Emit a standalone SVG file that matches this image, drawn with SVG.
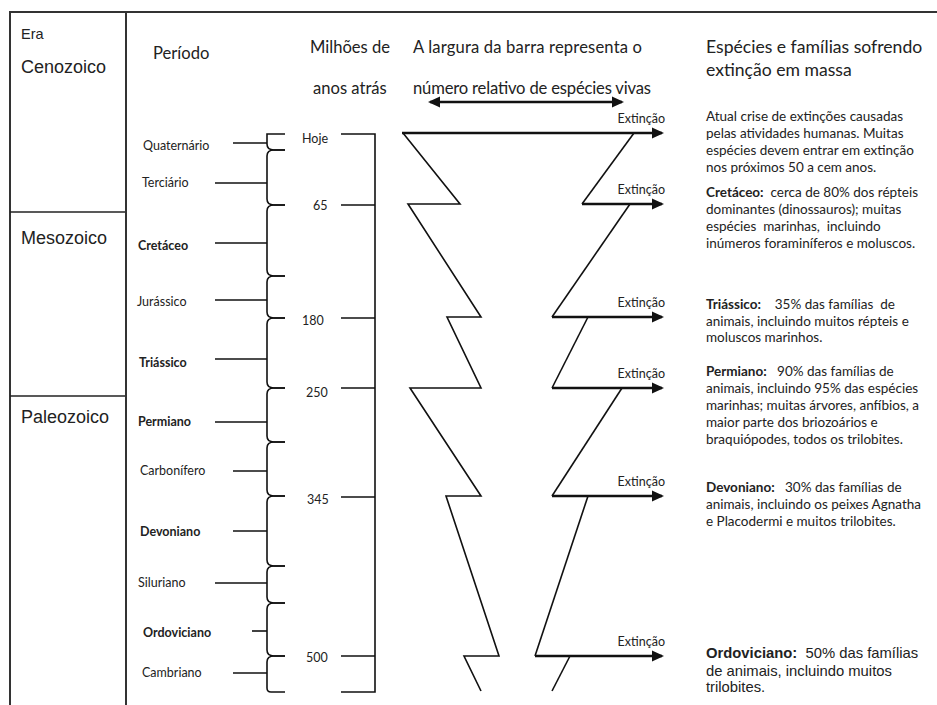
<svg xmlns="http://www.w3.org/2000/svg" width="937" height="705" viewBox="0 0 937 705">
<style>
.frame{stroke:#333;stroke-width:2;fill:none}
.thin{stroke:#222;stroke-width:1.5;fill:none}
.zig{stroke:#111;stroke-width:1.6;fill:none;stroke-linejoin:miter}
.arr{stroke:#111;stroke-width:2.6;fill:none}
.tick{stroke:#111;stroke-width:1.6;fill:none}
.brace{stroke:#111;stroke-width:1.6;fill:none}
.ar{font-family:"Liberation Sans",Arial,sans-serif;fill:#222}
.ca{font-family:Lato,"Open Sans",sans-serif;fill:#222}
.hd{font-size:16.6px}
.lb{font-size:12.5px}
.bd{font-size:13.5px;white-space:pre}
.b{font-weight:bold}
.ext{font-size:12.5px;text-anchor:end}
</style>
<defs>
<marker id="ah" markerUnits="userSpaceOnUse" markerWidth="14" markerHeight="12" refX="10" refY="6" orient="auto-start-reverse" viewBox="0 0 14 12">
<path d="M0,0.5 L12,6 L0,11.5 z" fill="#111"/>
</marker>
</defs>

<g id="frame">
<line class="frame" x1="9" y1="12" x2="937" y2="12"/>
<line class="frame" x1="10" y1="11" x2="10" y2="705"/>
<line class="frame" x1="126" y1="11" x2="126" y2="705"/>
<line class="thin" x1="10" y1="212" x2="125" y2="212"/>
<line class="thin" x1="10" y1="396" x2="125" y2="396"/>
</g>

<g id="era-header"><text class="ar" x="21" y="39" font-size="14.5">Era</text></g>
<g id="era-cenozoico"><text class="ar" x="21" y="73" font-size="18">Cenozoico</text></g>
<g id="era-mesozoico"><text class="ar" x="21" y="244" font-size="18">Mesozoico</text></g>
<g id="era-paleozoico"><text class="ar" x="21" y="423" font-size="18">Paleozoico</text></g>

<g id="headers">
<text class="ca hd" x="153" y="59">Período</text>
<text class="ca hd" x="310" y="53">Milhões de</text>
<text class="ca hd" x="313" y="94">anos atrás</text>
<text class="ca hd" x="413" y="53" textLength="229" lengthAdjust="spacing">A largura da barra representa o</text>
<text class="ca hd" x="413" y="94" textLength="238" lengthAdjust="spacing">número relativo de espécies vivas</text>
<text class="ca" x="706" y="53" font-size="17.6">Espécies e famílias sofrendo</text>
<text class="ca" x="706" y="76" font-size="17.6">extinção em massa</text>
</g>

<g id="periods">
<text class="ca lb" x="143" y="150">Quaternário</text>
<text class="ca lb" x="142" y="187">Terciário</text>
<text class="ca lb b" x="138" y="250">Cretáceo</text>
<text class="ca lb" x="137" y="306">Jurássico</text>
<text class="ca lb b" x="139" y="367">Triássico</text>
<text class="ca lb b" x="138" y="426">Permiano</text>
<text class="ca lb" x="140" y="475">Carbonífero</text>
<text class="ca lb b" x="140" y="536">Devoniano</text>
<text class="ca lb" x="138" y="587">Siluriano</text>
<text class="ca lb b" x="143" y="637">Ordoviciano</text>
<text class="ca lb" x="142" y="677">Cambriano</text>
</g>

<g id="ages">
<text class="ca lb" x="302" y="143">Hoje</text>
<text class="ca lb" x="313" y="210">65</text>
<text class="ca lb" x="302" y="325">180</text>
<text class="ca lb" x="306" y="397">250</text>
<text class="ca lb" x="307" y="504">345</text>
<text class="ca lb" x="306" y="662">500</text>
</g>

<g id="connectors">
<g id="period-ticks">
<line class="tick" x1="233" y1="143" x2="267" y2="143"/>
<line class="tick" x1="215" y1="183" x2="267" y2="183"/>
<line class="tick" x1="215" y1="243" x2="267" y2="243"/>
<line class="tick" x1="215" y1="300" x2="267" y2="300"/>
<line class="tick" x1="215" y1="359" x2="267" y2="359"/>
<line class="tick" x1="215" y1="422" x2="267" y2="422"/>
<line class="tick" x1="233" y1="471" x2="267" y2="471"/>
<line class="tick" x1="233" y1="531" x2="267" y2="531"/>
<line class="tick" x1="215" y1="583" x2="267" y2="583"/>
<line class="tick" x1="252" y1="631" x2="267" y2="631"/>
<line class="tick" x1="233" y1="673" x2="267" y2="673"/>
</g>
<g id="braces">
<path class="brace" d="M285,134 L267,134 L267,144 Q267,150 274,150 L285,150"/>
<path class="brace" d="M285,150 L274,150 Q267,150 267,156 L267,199 Q267,205 274,205 L285,205"/>
<path class="brace" d="M285,205 L274,205 Q267,205 267,211 L267,270 Q267,276 274,276 L285,276"/>
<path class="brace" d="M285,276 L274,276 Q267,276 267,282 L267,312 Q267,318 274,318 L285,318"/>
<path class="brace" d="M285,318 L274,318 Q267,318 267,324 L267,382 Q267,388 274,388 L285,388"/>
<path class="brace" d="M285,388 L274,388 Q267,388 267,394 L267,436 Q267,442 274,442 L285,442"/>
<path class="brace" d="M285,442 L274,442 Q267,442 267,448 L267,490 Q267,496 274,496 L285,496"/>
<path class="brace" d="M285,496 L274,496 Q267,496 267,502 L267,560 Q267,566 274,566 L285,566"/>
<path class="brace" d="M285,566 L274,566 Q267,566 267,572 L267,597 Q267,603 274,603 L285,603"/>
<path class="brace" d="M285,603 L274,603 Q267,603 267,609 L267,650 Q267,656 274,656 L285,656"/>
<path class="brace" d="M285,656 L274,656 Q267,656 267,662 L267,688 Q267,692 271,692 L285,692"/>
</g>
<g id="age-scale">
<path class="tick" d="M341,134 L375,134 L375,692 L341,692"/>
<line class="tick" x1="341" y1="205" x2="375" y2="205"/>
<line class="tick" x1="341" y1="318" x2="375" y2="318"/>
<line class="tick" x1="341" y1="388" x2="375" y2="388"/>
<line class="tick" x1="341" y1="497" x2="375" y2="497"/>
<line class="tick" x1="341" y1="656" x2="375" y2="656"/>
</g>
<line id="width-arrow" class="arr" x1="430" y1="102" x2="622" y2="102" marker-start="url(#ah)" marker-end="url(#ah)"/>
<g id="bar">
<path class="zig" d="M403,133 L460,204 L408,204 L481,317 L447,317 L481,388 L410,388 L481,496 L446,496 L499,656 L464,656 L481,691"/>
<path class="zig" d="M634,133 L582,204"/>
<path class="zig" d="M630,204 L552,317"/>
<path class="zig" d="M588,317 L552,388"/>
<path class="zig" d="M622,388 L552,496"/>
<path class="zig" d="M588,496 L535,656"/>
<path class="zig" d="M570,656 L552,691"/>
</g>
<g id="extinction-arrows">
<line class="arr" x1="402" y1="133" x2="662" y2="133" marker-end="url(#ah)"/>
<line class="arr" x1="582" y1="204" x2="662" y2="204" marker-end="url(#ah)"/>
<line class="arr" x1="552" y1="317" x2="662" y2="317" marker-end="url(#ah)"/>
<line class="arr" x1="552" y1="388" x2="662" y2="388" marker-end="url(#ah)"/>
<line class="arr" x1="552" y1="496" x2="662" y2="496" marker-end="url(#ah)"/>
<line class="arr" x1="535" y1="656" x2="662" y2="656" marker-end="url(#ah)"/>
</g>
</g>

<g id="extinction-labels">
<text class="ca ext" x="665" y="123">Extinção</text>
<text class="ca ext" x="665" y="194">Extinção</text>
<text class="ca ext" x="665" y="307">Extinção</text>
<text class="ca ext" x="665" y="378">Extinção</text>
<text class="ca ext" x="665" y="486">Extinção</text>
<text class="ca ext" x="665" y="646">Extinção</text>
</g>

<g id="note-atual">
<text class="ca bd" x="706" y="121">Atual crise de extinções causadas</text>
<text class="ca bd" x="706" y="138">pelas atividades humanas. Muitas</text>
<text class="ca bd" x="706" y="155">espécies devem entrar em extinção</text>
<text class="ca bd" x="706" y="172">nos próximos 50 a cem anos.</text>
</g>
<g id="note-cretaceo">
<text class="ca bd" x="706" y="197"><tspan class="b">Cretáceo:</tspan>  cerca de 80% dos répteis</text>
<text class="ca bd" x="706" y="214">dominantes (dinossauros); muitas</text>
<text class="ca bd" x="706" y="231">espécies  marinhas,  incluindo</text>
<text class="ca bd" x="706" y="248">inúmeros foraminíferos e moluscos.</text>
</g>
<g id="note-triassico">
<text class="ca bd" x="706" y="309"><tspan class="b">Triássico:</tspan>    35% das famílias  de</text>
<text class="ca bd" x="706" y="326">animais, incluindo muitos répteis e</text>
<text class="ca bd" x="706" y="342">moluscos marinhos.</text>
</g>
<g id="note-permiano">
<text class="ca bd" x="706" y="376"><tspan class="b">Permiano:</tspan>   90% das famílias de</text>
<text class="ca bd" x="706" y="393">animais, incluindo 95% das espécies</text>
<text class="ca bd" x="706" y="410">marinhas; muitas árvores, anfíbios, a</text>
<text class="ca bd" x="706" y="427">maior parte dos briozoários e</text>
<text class="ca bd" x="706" y="444">braquiópodes, todos os trilobites.</text>
</g>
<g id="note-devoniano">
<text class="ca bd" x="706" y="492"><tspan class="b">Devoniano:</tspan>   30% das famílias de</text>
<text class="ca bd" x="706" y="509">animais, incluindo os peixes Agnatha</text>
<text class="ca bd" x="706" y="526">e Placodermi e muitos trilobites.</text>
</g>
<g id="note-ordoviciano">
<text class="ar" x="706" y="658" font-size="14.8" style="white-space:pre"><tspan font-weight="bold">Ordoviciano:</tspan>  50% das famílias</text>
<text class="ar" x="706" y="676" font-size="14.8">de animais, incluindo muitos</text>
<text class="ar" x="706" y="692" font-size="14.8">trilobites.</text>
</g>
</svg>
